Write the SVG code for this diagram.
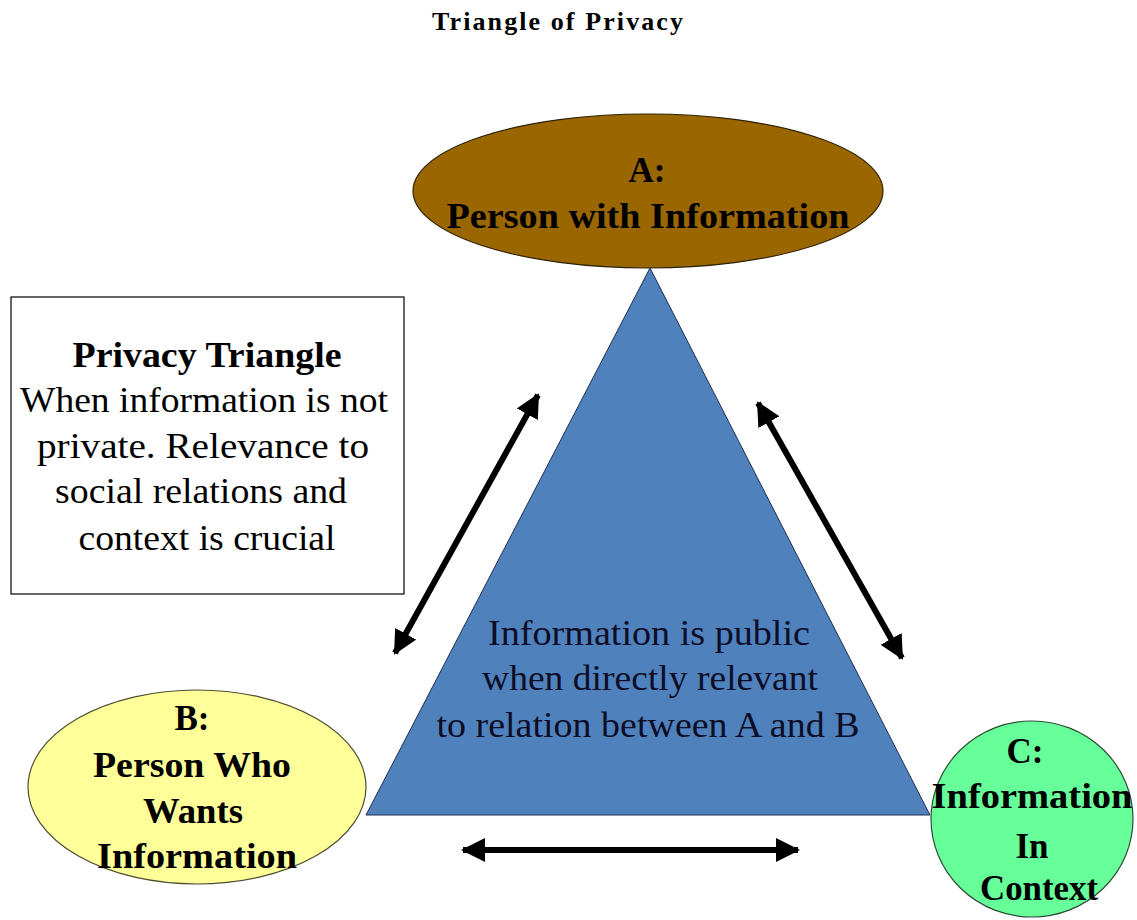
<svg xmlns="http://www.w3.org/2000/svg" width="1137" height="920" viewBox="0 0 1137 920">
<style>
.bg{fill:#ffffff}
.title{font-family:"Liberation Serif","DejaVu Serif",serif;font-weight:bold;font-size:26px;fill:#000}
.lbl{font-family:"Liberation Serif","DejaVu Serif",serif;font-weight:bold;font-size:35px;fill:#000;text-anchor:middle}
.body{font-family:"Liberation Serif","DejaVu Serif",serif;font-size:35px;fill:#000;text-anchor:middle}
.tri{font-family:"Liberation Serif","DejaVu Serif",serif;font-size:35px;fill:#0d0d26;text-anchor:middle}
.arrow{stroke:#000;stroke-width:6;fill:none}
</style>
<defs>
<marker id="ah" viewBox="0 0 24 24" refX="22" refY="12" markerWidth="24" markerHeight="24" markerUnits="userSpaceOnUse" orient="auto-start-reverse">
<path d="M0,0 L24,12 L0,24 z" fill="#000"/>
</marker>
</defs>
<rect class="bg" x="0" y="0" width="1137" height="920"/>
<text class="title" x="432" y="30" textLength="251" lengthAdjust="spacing">Triangle of Privacy</text>

<g id="triangle">
<polygon points="650,268 366,815 930,815" fill="#4f81bd" stroke="#1f3050" stroke-width="1"/>
<text class="tri" x="649" y="645" textLength="322" lengthAdjust="spacingAndGlyphs">Information is public</text>
<text class="tri" x="650" y="690" textLength="336" lengthAdjust="spacingAndGlyphs">when directly relevant</text>
<text class="tri" x="648" y="737" textLength="423" lengthAdjust="spacingAndGlyphs">to relation between A and B</text>
</g>

<g id="nodeA">
<ellipse cx="648" cy="191" rx="235" ry="77" fill="#996600" stroke="#2e2000" stroke-width="1.2"/>
<text class="lbl" x="647" y="182">A:</text>
<text class="lbl" x="648" y="228" textLength="403" lengthAdjust="spacingAndGlyphs">Person with Information</text>
</g>

<g id="infobox">
<rect x="11" y="297" width="393" height="297" fill="#fff" stroke="#000" stroke-width="1.2"/>
<text class="lbl" x="207" y="367" textLength="269" lengthAdjust="spacingAndGlyphs">Privacy Triangle</text>
<text class="body" x="204" y="412" textLength="368" lengthAdjust="spacingAndGlyphs">When information is not</text>
<text class="body" x="203" y="458" textLength="332" lengthAdjust="spacingAndGlyphs">private.  Relevance to</text>
<text class="body" x="201" y="503" textLength="292" lengthAdjust="spacingAndGlyphs">social relations and</text>
<text class="body" x="207" y="550" textLength="257" lengthAdjust="spacingAndGlyphs">context is crucial</text>
</g>

<g id="nodeB">
<ellipse cx="197" cy="787" rx="169" ry="97" fill="#ffff99" stroke="#4d4d33" stroke-width="1.2"/>
<text class="lbl" x="192" y="730">B:</text>
<text class="lbl" x="192" y="777" textLength="198" lengthAdjust="spacingAndGlyphs">Person Who</text>
<text class="lbl" x="193" y="823" textLength="100" lengthAdjust="spacingAndGlyphs">Wants</text>
<text class="lbl" x="197" y="868" textLength="200" lengthAdjust="spacingAndGlyphs">Information</text>
</g>

<g id="nodeC">
<ellipse cx="1032" cy="819" rx="101" ry="98" fill="#66ff99" stroke="#2d4d38" stroke-width="1.2"/>
<text class="lbl" x="1025" y="763">C:</text>
<text class="lbl" x="1032" y="808" textLength="201" lengthAdjust="spacingAndGlyphs">Information</text>
<text class="lbl" x="1032" y="858">In</text>
<text class="lbl" x="1039" y="900" textLength="118" lengthAdjust="spacingAndGlyphs">Context</text>
</g>

<g id="connectors">
<line class="arrow" x1="395" y1="653" x2="538" y2="395" marker-start="url(#ah)" marker-end="url(#ah)"/>
<line class="arrow" x1="758" y1="403" x2="902" y2="658" marker-start="url(#ah)" marker-end="url(#ah)"/>
<line class="arrow" x1="463" y1="850" x2="798" y2="850" marker-start="url(#ah)" marker-end="url(#ah)"/>
</g>
</svg>
